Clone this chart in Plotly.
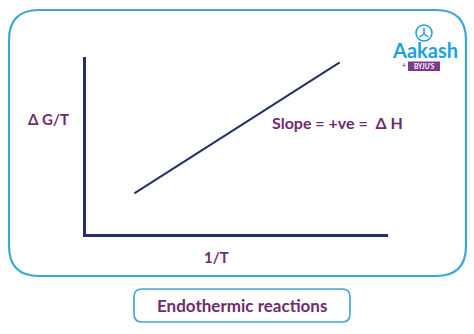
import plotly.graph_objects as go

W, H = 474, 334

# Data (arbitrary units along the two axes)
inv_T = [1.6, 8.4]          # 1/T
dG_over_T = [2.3, 9.7]      # ΔG/T
x_label = "1/T"
y_label = "Δ G/T"
slope_label = "Slope = +ve =  Δ H"
caption = "Endothermic reactions"

PURPLE = "#6e2c6f"
NAVY = "#23306c"
FRAME = "#3ca6d6"
LOGO_BLUE = "#1ba1e2"
LOGO_PURPLE = "#7b3a8c"

def px(x):
    return x / W

def py(y):
    return 1 - y / H

def rrect(x0, y0, x1, y1, r):
    pts = []
    pts.append(f"M {px(x0 + r)},{py(y0)}")
    pts.append(f"L {px(x1 - r)},{py(y0)}")
    pts.append(f"Q {px(x1)},{py(y0)} {px(x1)},{py(y0 + r)}")
    pts.append(f"L {px(x1)},{py(y1 - r)}")
    pts.append(f"Q {px(x1)},{py(y1)} {px(x1 - r)},{py(y1)}")
    pts.append(f"L {px(x0 + r)},{py(y1)}")
    pts.append(f"Q {px(x0)},{py(y1)} {px(x0)},{py(y1 - r)}")
    pts.append(f"L {px(x0)},{py(y0 + r)}")
    pts.append(f"Q {px(x0)},{py(y0)} {px(x0 + r)},{py(y0)}")
    pts.append("Z")
    return " ".join(pts)

fig = go.Figure()
fig.add_trace(go.Scatter(x=inv_T, y=dG_over_T, mode="lines",
                         line=dict(color=NAVY, width=2), hoverinfo="skip",
                         showlegend=False))

shapes = [
    dict(type="path", xref="paper", yref="paper", path=rrect(9, 10, 466, 276, 30),
         line=dict(color=FRAME, width=2.2), fillcolor="rgba(0,0,0,0)", layer="below"),
    dict(type="path", xref="paper", yref="paper", path=rrect(134, 289, 350, 322, 8),
         line=dict(color=FRAME, width=1.6), fillcolor="rgba(0,0,0,0)", layer="below"),
    # logo icon
    dict(type="circle", xref="paper", yref="paper",
         x0=px(416), x1=px(432), y0=py(25), y1=py(41),
         line=dict(color=LOGO_BLUE, width=1.5)),
    dict(type="line", xref="paper", yref="paper", x0=px(424), y0=py(28), x1=px(424), y1=py(34),
         line=dict(color=LOGO_BLUE, width=1.5)),
    dict(type="line", xref="paper", yref="paper", x0=px(424), y0=py(34), x1=px(419.5), y1=py(37),
         line=dict(color=LOGO_BLUE, width=1.5)),
    dict(type="line", xref="paper", yref="paper", x0=px(424), y0=py(34), x1=px(428.5), y1=py(37),
         line=dict(color=LOGO_BLUE, width=1.5)),
    dict(type="rect", xref="paper", yref="paper", x0=px(408), x1=px(440), y0=py(61.5), y1=py(71),
         line=dict(width=0), fillcolor=LOGO_PURPLE),
]

def ann(text, x, y, size, color=PURPLE, anchor="center"):
    return dict(text=text, x=px(x), y=py(y), xref="paper", yref="paper",
                xanchor=anchor, yanchor="middle", showarrow=False,
                font=dict(family="Lato", size=size, color=color))

annotations = [
    ann(f"<b>{y_label}</b>", 48, 119, 15),
    ann(f"<b>{x_label}</b>", 216, 257, 15),
    ann(f"<b>{slope_label}</b>", 270, 122, 16, anchor="left"),
    ann(f"<b>{caption}</b>", 242, 305, 17),
    ann("<b>Aakash</b>", 424.5, 50.5, 20, color=LOGO_BLUE),
    ann("<b>+</b>", 404, 65, 7, color=LOGO_PURPLE),
    ann("<b>BYJU'S</b>", 424, 66.5, 6.5, color="white"),
]

fig.update_layout(
    width=W, height=H,
    margin=dict(l=0, r=0, t=0, b=0),
    paper_bgcolor="white", plot_bgcolor="white",
    xaxis=dict(domain=[px(86), px(388)], range=[0, 10], showline=True, linecolor=NAVY,
               linewidth=2.5, showgrid=False, zeroline=False, showticklabels=False,
               ticks="", fixedrange=True),
    yaxis=dict(domain=[py(234), py(57)], range=[0, 10], showline=True, linecolor=NAVY,
               linewidth=2.5, showgrid=False, zeroline=False, showticklabels=False,
               ticks="", fixedrange=True),
    shapes=shapes,
    annotations=annotations,
    showlegend=False,
)

fig.write_html("out.html", config={"displayModeBar": False})
